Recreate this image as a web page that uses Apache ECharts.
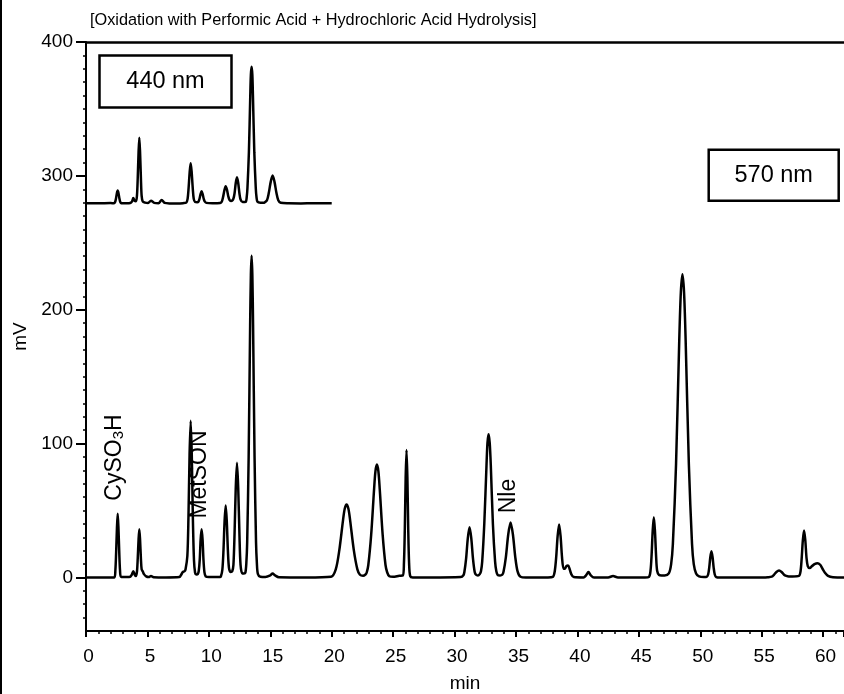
<!DOCTYPE html>
<html><head><meta charset="utf-8">
<script src="https://cdn.jsdelivr.net/npm/echarts@6/dist/echarts.min.js"></script>
<style>html,body{margin:0;padding:0;background:#fff}#c{width:844px;height:694px}</style>
</head><body><div id="c"></div>
<script>
// 570 nm trace (main chromatogram): retention time (min) and signal (mV)
const time570 = [0,1.5,2.31,2.39,2.45,2.52,2.58,2.64,2.71,2.77,2.85,3.3,3.6,3.72,3.85,3.97,4.07,4.15,4.21,4.28,4.34,4.40,4.47,4.53,4.62,4.72,4.9,5.1,5.29,5.5,6.5,7.6,7.75,7.87,8.0,8.1,8.25,8.34,8.43,8.52,8.61,8.70,8.79,8.88,8.98,9.1,9.18,9.26,9.33,9.41,9.49,9.56,9.64,9.74,10.0,10.9,10.98,11.10,11.19,11.28,11.37,11.46,11.55,11.64,11.78,11.9,12.0,12.09,12.19,12.29,12.39,12.49,12.58,12.72,12.86,12.97,13.05,13.12,13.24,13.36,13.42,13.48,13.54,13.6,13.72,13.84,13.91,13.99,14.2,14.6,15.0,15.19,15.4,15.7,18.0,19.95,20.33,20.62,20.92,21.06,21.21,21.36,21.5,21.8,22.09,22.3,22.55,22.75,22.85,22.98,23.21,23.45,23.56,23.68,23.8,23.91,24.15,24.38,24.52,24.69,25.0,25.5,25.79,25.88,25.95,26.02,26.09,26.16,26.23,26.30,26.39,26.6,28.0,30.5,30.72,30.8,30.94,31.08,31.22,31.36,31.5,31.64,31.75,31.9,32.05,32.15,32.25,32.42,32.6,32.68,32.77,32.86,32.95,33.12,33.3,33.4,33.52,33.7,33.88,33.99,34.18,34.37,34.56,34.75,34.94,35.13,35.37,35.8,37.6,38.0,38.15,38.27,38.39,38.51,38.63,38.75,38.87,38.97,39.1,39.24,39.36,39.5,39.7,40.5,40.7,40.9,41.1,41.35,42.5,42.9,43.3,45.5,45.83,45.95,46.04,46.13,46.22,46.31,46.4,46.49,46.65,46.85,47.1,47.44,47.63,47.77,48.03,48.29,48.42,48.55,48.68,48.81,49.07,49.33,49.47,49.66,49.9,50.3,50.52,50.64,50.73,50.82,50.91,51.0,51.09,51.18,51.3,51.6,55.3,55.5,55.82,56.0,56.2,56.41,56.62,56.82,57.0,57.2,57.5,58.03,58.16,58.25,58.35,58.45,58.55,58.65,58.75,58.91,59.1,59.3,59.54,59.76,59.95,60.15,60.4,60.8,61.7];
const mv570 = [0,0,0,5.2,17.8,37.2,47.5,37.2,17.8,5.2,0.5,0.3,0.5,2,4.7,2,1,4.5,14,28.5,36,28.5,14,6,4.5,2.5,0.8,0.3,1,0.2,0,0.3,2,4,4.5,6,16,45,91.6,117,91.6,43.9,12.9,3.5,2.2,2.5,5,13.5,28.2,36,28.2,13.5,4.0,0.8,0.3,0.3,0.8,5.9,20.1,42.0,53.7,42.0,20.1,7,4,4.5,9.4,32.1,67.0,85.6,67.0,32.1,9.4,3,3,3.5,10.5,26.4,90.1,188.2,226.1,240.3,226.1,188.2,90.1,26.4,10.5,2.7,0.5,0.3,1.5,3,1.5,0.2,0,0.6,6.0,20.4,42.7,51.3,54.5,51.3,42.7,20.4,6.0,2,1.2,2.2,3.7,9.3,31.6,66.0,79.3,84.3,79.3,66.0,31.6,9.3,3.7,0.9,0.5,1.3,1.5,10.5,35.7,74.6,95.3,74.6,35.7,10.5,1.0,0,0,0.3,1.6,4.1,14.1,29.4,37.5,29.4,14.1,4.1,2,1.5,2.5,4.7,11.8,40.1,83.8,100.7,107,100.7,83.8,40.1,11.8,4.7,1.8,1.5,2,4.5,15.4,32.1,41,32.1,15.4,4.5,0.5,0,0,0.4,4.3,14.8,30.9,39.5,30.9,14.8,6.5,6.5,8.5,9,6.5,2.5,0.3,0,1.5,4,1.5,0,0,1,0,0,0.5,5.0,16.9,35.2,45,35.2,16.9,5.0,1.8,1.5,1.5,3,10,24.9,84.9,177.3,213.1,226.5,213.1,177.3,84.9,24.9,10,3,0.8,0.3,0.5,2.2,7.4,15.3,19.6,15.3,7.4,2.2,0.3,0,0,0.1,0.6,2,4.1,5.2,4.1,2,1.2,0.8,0.8,1.2,4.5,13.5,27.8,35,27.8,14.5,8.5,7,8.5,10,10.7,9.5,6.5,3.5,1.2,0.2,0];

// 440 nm trace (inset, drawn offset on the same axis)
const time440 = [0,1.0,2.0,2.28,2.37,2.44,2.51,2.58,2.65,2.72,2.79,2.88,3.3,3.6,3.75,3.85,3.95,4.07,4.15,4.21,4.28,4.34,4.40,4.47,4.53,4.62,4.8,5.05,5.29,5.55,5.9,6.16,6.4,6.9,7.5,7.9,8.16,8.27,8.35,8.44,8.52,8.6,8.69,8.77,8.88,9.05,9.16,9.24,9.33,9.41,9.49,9.58,9.66,9.8,10.3,10.92,11.06,11.16,11.27,11.37,11.48,11.58,11.68,11.8,11.9,12.0,12.09,12.19,12.29,12.39,12.49,12.58,12.75,13.0,13.08,13.14,13.26,13.37,13.42,13.48,13.54,13.59,13.7,13.82,13.88,13.96,14.2,14.45,14.53,14.73,14.88,15.04,15.19,15.34,15.5,15.65,15.85,16.5,17.5,18.5,20.0];
const mv440 = [279.5,279.5,279.7,279.5,280.5,283.1,286.9,289,286.9,283.1,280.5,279.6,279.5,279.7,281,283.5,281.5,281,285.5,298,318,328.5,318,298,285,280.8,280,279.7,281.5,279.8,279.6,282,279.8,279.4,279.3,279.6,280,282.8,290.7,303,309.5,303,290.7,282.8,280.5,280.3,280.9,282.9,286.5,288.5,286.5,282.9,280.9,279.8,279.5,279.8,280.9,284.3,289.4,292.2,289.4,284.8,282,281.3,281.5,283,286.8,294.7,298.9,294.7,286.8,282.3,280.5,280.6,284,290.7,317.7,359.4,375.5,381.5,375.5,359.4,317.7,290.7,284,280.6,279.9,279.9,280.1,281.8,287.3,295.7,300.2,295.7,287.3,281.8,279.9,279.5,279.4,279.5,279.5];

// axis ticks
const yMajorTicks = [0,100,200,300,400];
const yMinorTicks = [-30,-20,-10,0,10,20,30,40,50,60,70,80,90,100,110,120,130,140,150,160,170,180,190,200,210,220,230,240,250,260,270,280,290,300,310,320,330,340,350,360,370,380,390,400];

// peak annotations (text, retention time, mV of label centre)
const peakLabels = ['CySO{s|3}H','MetSON','Nle'];
const peakLabelTime = [2.36, 9.24, 34.42];
const peakLabelMv = [89.6, 76.9, 60.8];

const titleText = '[Oxidation with Performic Acid + Hydrochloric Acid Hydrolysis]';
const boxTexts = ['440 nm','570 nm'];

const FONT = "'Liberation Sans', Arial, Helvetica, sans-serif";
const chart = echarts.init(document.getElementById('c'), null, {renderer:'canvas'});

const d570 = time570.map((t,i)=>[t, mv570[i]]);
const d440 = time440.map((t,i)=>[t, mv440[i]]);

const option = {
  animation: false,
  backgroundColor: '#fff',
  textStyle: {fontFamily: FONT, color:'#000'},
  title: {text: titleText, left: 85, top: 8, textStyle:{fontFamily: FONT, fontSize: 16.3, fontWeight:'normal', color:'#000'}},
  grid: {left: 86, right: 0, top: 42, bottom: 63, containLabel: false, outerBoundsMode: 'none'},
  xAxis: [{
    type:'value', min:0, max:61.7, interval:5, position:'bottom',
    name:'min', nameLocation:'middle', nameGap:43,
    nameTextStyle:{fontFamily:FONT, fontSize:19, color:'#000'},
    axisLine:{show:true, onZero:false, lineStyle:{color:'#000', width:2}},
    axisTick:{show:true, inside:false, length:6, lineStyle:{color:'#000', width:2}},
    minorTick:{show:true, splitNumber:5, length:3, lineStyle:{color:'#000', width:1.5}},
    axisLabel:{fontFamily:FONT, fontSize:19, color:'#000', margin:16, showMaxLabel:false, padding:[0,0,0,5]},
    splitLine:{show:false}
  },{
    type:'value', min:0, max:61.7, position:'top',
    axisLine:{show:true, onZero:false, lineStyle:{color:'#000', width:2.5}},
    axisTick:{show:false}, axisLabel:{show:false}, splitLine:{show:false}
  }],
  yAxis: [{
    type:'value', min:-40, max:400, position:'left',
    name:'mV', nameLocation:'middle', nameGap:54, nameRotate:90,
    nameTextStyle:{fontFamily:FONT, fontSize:19, color:'#000'},
    axisLine:{show:true, onZero:false, lineStyle:{color:'#000', width:2}},
    axisTick:{show:true, length:10, customValues: yMajorTicks, lineStyle:{color:'#000', width:2}},
    axisLabel:{fontFamily:FONT, fontSize:19, color:'#000', margin:13, customValues: yMajorTicks},
    splitLine:{show:false}
  },{
    type:'value', min:-40, max:400, position:'left',
    axisLine:{show:false},
    axisTick:{show:true, length:3, customValues: yMinorTicks, lineStyle:{color:'#000', width:1.5}},
    axisLabel:{show:false}, splitLine:{show:false}
  }],
  series: [{
    type:'line', name:'570 nm', data:d570, xAxisIndex:0, yAxisIndex:0,
    showSymbol:false, symbol:'none', smooth:0.3,
    lineStyle:{color:'#000', width:2.5}, z:3
  },{
    type:'line', name:'440 nm', data:d440, xAxisIndex:0, yAxisIndex:0,
    showSymbol:false, symbol:'none', smooth:0.3,
    lineStyle:{color:'#000', width:2.5}, z:3
  }]
};
chart.setOption(option);

function boxGraphic(text, cx, cy, w, h){
  return {
    type:'group', x:cx, y:cy, children:[
      {type:'rect', shape:{x:-w/2, y:-h/2, width:w, height:h}, style:{fill:'#fff', stroke:'#000', lineWidth:2.5}},
      {type:'text', style:{text:text, x:0, y:0, align:'center', verticalAlign:'middle', font:'23.5px '+FONT, fill:'#000'}}
    ]
  };
}
const graphics = [
  {type:'line', shape:{x1:1, y1:0, x2:1, y2:694}, style:{stroke:'#000', lineWidth:2}},
  boxGraphic(boxTexts[0], 165.5, 81.5, 132, 52),
  boxGraphic(boxTexts[1], 773.7, 175.2, 130, 51)
];
peakLabels.forEach((txt,i)=>{
  const p = chart.convertToPixel({gridIndex:0}, [peakLabelTime[i], peakLabelMv[i]]);
  graphics.push({
    type:'text', x:p[0], y:p[1], rotation:Math.PI/2,
    style:{text:txt, align:'center', verticalAlign:'middle', fontFamily:FONT, fontSize:23, fill:'#000',
      rich:{s:{fontSize:15, fontFamily:FONT, verticalAlign:'bottom', padding:[6,0,0,0]}}}
  });
});
chart.setOption({graphic: graphics});
</script></body></html>
